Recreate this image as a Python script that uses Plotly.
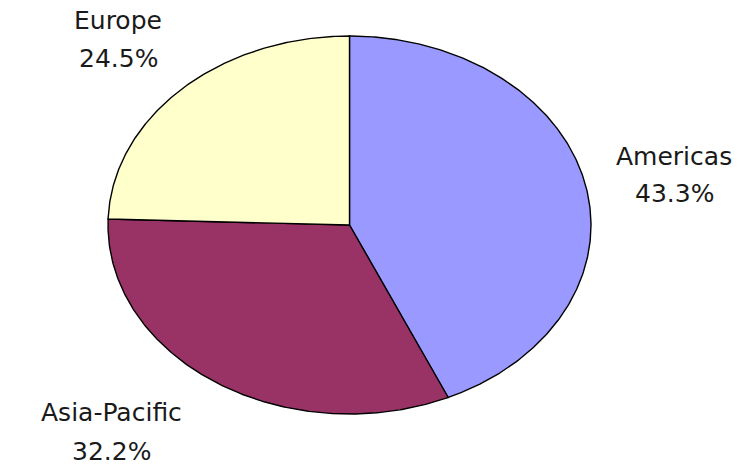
import numpy as np
import plotly.graph_objects as go

# Regional share of revenue, drawn clockwise from 12 o'clock
regions = ["Americas", "Asia-Pacific", "Europe"]
shares = [43.3, 32.2, 24.5]
colors = ["#9999FF", "#993366", "#FFFFCC"]

# Elliptical pie geometry in pixel-like plot coordinates (y grows downward)
CX, CY, RX, RY = 349.5, 225.0, 241.5, 189.0

# Label anchor per region: (x of text centre, y of name line, y of value line)
label_pos = {
    "Americas": (674, 156, 193),
    "Asia-Pacific": (111, 412, 451),
    "Europe": (118, 20, 58),
}

fig = go.Figure()

total = float(sum(shares))
start = 0.0
for name, val, col in zip(regions, shares, colors):
    frac = val / total
    t = np.linspace(start, start + frac, max(int(frac * 720), 8)) * 2 * np.pi
    xs = np.concatenate([[CX], CX + RX * np.sin(t), [CX]])
    ys = np.concatenate([[CY], CY - RY * np.cos(t), [CY]])
    fig.add_trace(go.Scatter(
        x=xs, y=ys, mode="lines", fill="toself", fillcolor=col,
        line=dict(color="#000000", width=1.4), name=name,
        hoverinfo="text", text=f"{name}: {val:.1f}%",
    ))
    start += frac

    lx, ly1, ly2 = label_pos[name]
    for txt, ly in ((name, ly1), (f"{val:.1f}%", ly2)):
        fig.add_annotation(
            x=lx, y=ly, text=txt, showarrow=False,
            xanchor="center", yanchor="middle",
            font=dict(family="DejaVu Sans", size=25, color="#1a1a1a"),
        )

fig.update_layout(
    width=748, height=465,
    margin=dict(l=0, r=0, t=0, b=0),
    paper_bgcolor="white", plot_bgcolor="white",
    showlegend=False,
    xaxis=dict(range=[0, 748], visible=False, fixedrange=True),
    yaxis=dict(range=[465, 0], visible=False, fixedrange=True),
)

fig.write_html("out.html")
